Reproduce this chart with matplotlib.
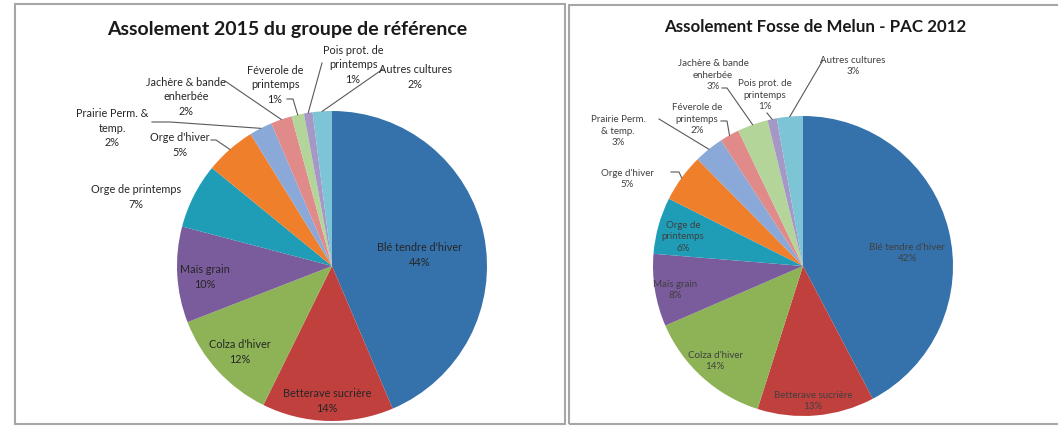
import numpy as np
import matplotlib.pyplot as plt
from matplotlib.patches import Rectangle

# --- data -------------------------------------------------------------
title_2015 = "Assolement 2015 du groupe de référence"
cultures_2015 = ["Blé tendre d'hiver", "Betterave sucrière", "Colza d'hiver",
                 "Maïs grain", "Orge de printemps", "Orge d'hiver",
                 "Prairie Perm. &\ntemp.", "Jachère & bande\nenherbée",
                 "Féverole de\nprintemps", "Pois prot. de\nprintemps",
                 "Autres cultures"]
parts_2015 = [43.6, 13.7, 11.8, 10.0, 6.8, 5.3, 2.4, 2.2, 1.3, 0.9, 2.0]

title_2012 = "Assolement Fosse de Melun - PAC 2012"
cultures_2012 = ["Blé tendre d'hiver", "Betterave sucrière", "Colza d'hiver",
                 "Maïs grain", "Orge de\nprintemps", "Orge d'hiver",
                 "Prairie Perm.\n& temp.", "Féverole de\nprintemps",
                 "Jachère & bande\nenherbée", "Pois prot. de\nprintemps",
                 "Autres cultures"]
parts_2012 = [42.3, 12.6, 13.6, 7.8, 6.1, 5.2, 3.2, 2.1, 3.3, 1.0, 2.8]

colors = ["#3571ab", "#c0403e", "#8db356", "#7a5b9c", "#1f9cb6", "#f07f2c",
          "#8aa8d8", "#e08a8a", "#b3d59a", "#a597c6", "#7dc5d6"]

# --- layout (pixel coords, y down) -----------------------------------
W, H = 1058, 427
left = dict(center=(332, 267), radius=155, fs=7.8, tcol="#262626",
            title_xy=(287, 30), title_fs=14,
            labels=[(420, 255), (327, 401), (240, 352), (205, 277), (136, 197),
                    (180, 145), (112, 128), (186, 97), (275, 85), (353, 65),
                    (415, 77)],
            leaders=[None, None, None, None, None,
                     [(211, 141), (216, 141)], [(152, 123), (170, 123)],
                     [(225, 82)], [(287, 100), (293, 100)], [(322, 64)],
                     [(383, 70)]])
right = dict(center=(803, 267), radius=150, fs=7.0, tcol="#404040",
             title_xy=(815, 27), title_fs=12.2,
             labels=[(907, 253), (813, 401), (715, 361), (675, 290), (683, 237),
                     (627, 179), (618, 131), (697, 119), (713, 75), (765, 95),
                     (853, 66)],
             leaders=[None, None, None, None, None,
                      [(671, 173), (679, 173)], [(659, 120)],
                      [(721, 122), (727, 122)], [(722, 89), (727, 89)],
                      [(767, 114)], [(823, 61)]])

plt.rcParams['font.family'] = ['Lato', 'DejaVu Sans']

fig = plt.figure(figsize=(W / 100, H / 100), dpi=100)
ax = fig.add_axes([0, 0, 1, 1])


def P(x, y):
    return x, H - y


def draw(ax, names, values, title, lay):
    cx, cy = P(*lay["center"])
    r = lay["radius"]
    ax.pie(values, colors=colors, startangle=90, counterclock=False,
           center=(cx, cy), radius=r, wedgeprops=dict(linewidth=0))
    total = sum(values)
    cum = np.cumsum([0] + list(values[:-1]))
    for i, (name, v) in enumerate(zip(names, values)):
        tx, ty = P(*lay["labels"][i])
        ax.text(tx, ty, f"{name}\n{round(v / total * 100)}%", ha="center",
                va="center", fontsize=lay["fs"], color=lay["tcol"],
                linespacing=1.35)
        if lay["leaders"][i]:
            ang = np.deg2rad(90 - 360 * (cum[i] + v / 2) / total)
            pts = [P(*p) for p in lay["leaders"][i]]
            pts.append((cx + r * np.cos(ang), cy + r * np.sin(ang)))
            xs, ys = zip(*pts)
            ax.plot(xs, ys, color="#595959", lw=0.8)
    ax.text(*P(*lay["title_xy"]), title, ha="center", va="center",
            fontsize=lay["title_fs"], fontweight="bold", color="#1a1a1a")


draw(ax, cultures_2015, parts_2015, title_2015, left)
draw(ax, cultures_2012, parts_2012, title_2012, right)

# panel frames
ax.add_patch(Rectangle(P(15, 425), 550, 420, fill=False, ec="#a6a6a6", lw=1.5))
ax.add_patch(Rectangle(P(569, 425), 520, 419, fill=False, ec="#a6a6a6", lw=1.5))

ax.set_xlim(0, W)
ax.set_ylim(0, H)
ax.set_aspect("equal")
ax.axis("off")

fig.savefig("out.png", dpi=100)
